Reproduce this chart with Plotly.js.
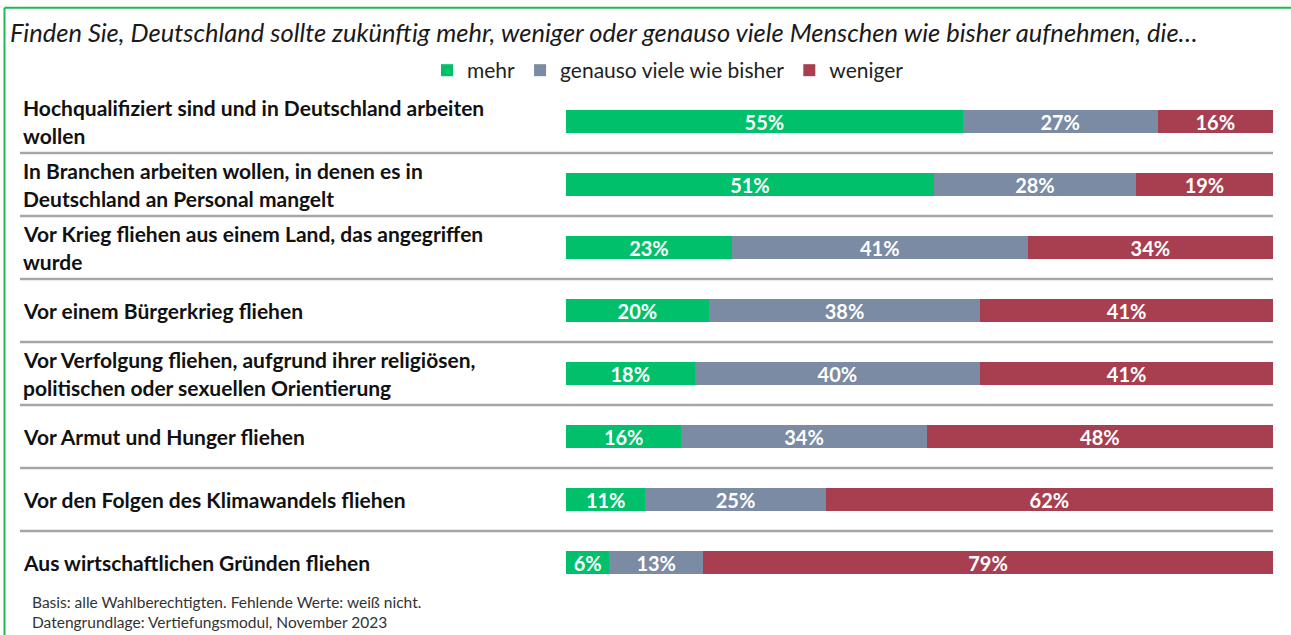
<!DOCTYPE html>
<html>
<head>
<meta charset="utf-8">
<script src="https://cdn.plot.ly/plotly-3.0.1.min.js"></script>
<style>
html,body{margin:0;padding:0;background:#fff;}
#chart{width:1291px;height:635px;}
</style>
</head>
<body>
<div id="chart"></div>
<script>
// ---- data ----
const categories = [
  "Hochqualifiziert sind und in Deutschland arbeiten<br>wollen",
  "In Branchen arbeiten wollen, in denen es in<br>Deutschland an Personal mangelt",
  "Vor Krieg fliehen aus einem Land, das angegriffen<br>wurde",
  "Vor einem Bürgerkrieg fliehen",
  "Vor Verfolgung fliehen, aufgrund ihrer religiösen,<br>politischen oder sexuellen Orientierung",
  "Vor Armut und Hunger fliehen",
  "Vor den Folgen des Klimawandels fliehen",
  "Aus wirtschaftlichen Gründen fliehen"
];
const seriesNames = ["mehr", "genauso viele wie bisher", "weniger"];
const mehr    = [55, 51, 23, 20, 18, 16, 11, 6];
const genauso = [27, 28, 41, 38, 40, 34, 25, 13];
const weniger = [16, 19, 34, 41, 41, 48, 62, 79];
const titleText = "Finden Sie, Deutschland sollte zukünftig mehr, weniger oder genauso viele Menschen wie bisher aufnehmen, die…";
const footnote1 = "Basis: alle Wahlberechtigten. Fehlende Werte: weiß nicht.";
const footnote2 = "Datengrundlage: Vertiefungsmodul, November 2023";

// ---- geometry (pixels) ----
const W = 1291, H = 635;
const mL = 566, mR = 18, mT = 89.5, mB = 40.5;
const plotW = W - mL - mR, plotH = H - mT - mB;
const px = x => (x - mL) / plotW;          // pixel x -> paper x
const py = y => (H - mB - y) / plotH;       // pixel y -> paper y

const colors = ["#00C06B", "#7A8BA3", "#A83F51"];
const vals = [mehr, genauso, weniger];

const traces = vals.map((v, i) => ({
  type: "bar",
  orientation: "h",
  name: seriesNames[i],
  y: categories,
  x: v,
  text: v.map(d => d + "%"),
  textposition: "inside",
  insidetextanchor: "middle",
  constraintext: "none",
  textfont: {family: "Lato, sans-serif", size: 20, color: "#ffffff", weight: "bold"},
  marker: {color: colors[i], line: {width: 0}},
  width: 0.38,
  hoverinfo: "skip"
}));

const annotations = [];
categories.forEach((c, i) => {
  const lines = c.split("<br>");
  const step = 0.46;
  lines.forEach((ln, j) => {
    const off = (j - (lines.length - 1) / 2) * step;
    annotations.push({
      xref: "paper", yref: "y",
      x: px(21), y: i + off,
      xanchor: "left", yanchor: "middle", align: "left",
      text: "<b>" + ln + "</b>",
      showarrow: false,
      font: {family: "Lato, sans-serif", size: 21, color: "#111111"}
    });
  });
});
annotations.push({
  xref: "paper", yref: "paper", x: px(8), y: py(31),
  xanchor: "left", yanchor: "middle",
  text: "<i>" + titleText + "</i>", showarrow: false,
  font: {family: "Lato, sans-serif", size: 25.5, color: "#1a1a1a"}
});
annotations.push({
  xref: "paper", yref: "paper", x: px(30), y: py(613),
  xanchor: "left", yanchor: "middle", align: "left",
  text: footnote1 + "<br>" + footnote2, showarrow: false,
  font: {family: "Lato, sans-serif", size: 15.5, color: "#333333"}
});

const shapes = [];
for (let k = 0; k < categories.length - 1; k++) {
  shapes.push({
    type: "line", xref: "paper", yref: "y",
    x0: px(20), x1: 1, y0: k + 0.5, y1: k + 0.5,
    line: {color: "#A6A6A6", width: 2.5}
  });
}
// green frame (left + top)
shapes.push({type: "line", xref: "paper", yref: "paper",
  x0: px(4.5), x1: px(4.5), y0: py(7), y1: py(H + 2), line: {color: "#1DB954", width: 2}});
shapes.push({type: "line", xref: "paper", yref: "paper",
  x0: px(4.5), x1: px(W + 2), y0: py(7), y1: py(7), line: {color: "#1DB954", width: 2}});

const layout = {
  width: W, height: H,
  margin: {l: mL, r: mR, t: mT, b: mB, pad: 0},
  paper_bgcolor: "#ffffff", plot_bgcolor: "#ffffff",
  barmode: "stack",
  barnorm: "percent",
  xaxis: {range: [0, 100], visible: false, fixedrange: true},
  yaxis: {range: [categories.length - 0.5, -0.5], type: "category",
          showticklabels: false, showgrid: false, zeroline: false, showline: false, fixedrange: true},
  showlegend: true,
  legend: {
    orientation: "h", xref: "paper", yref: "paper",
    x: px(668), y: py(70), xanchor: "center", yanchor: "middle",
    font: {family: "Lato, sans-serif", size: 21, color: "#222222"},
    traceorder: "normal", itemwidth: 30,
    bgcolor: "rgba(0,0,0,0)"
  },
  annotations: annotations,
  shapes: shapes,
  hovermode: false
};

Plotly.newPlot("chart", traces, layout, {displayModeBar: false, staticPlot: true});
</script>
</body>
</html>
